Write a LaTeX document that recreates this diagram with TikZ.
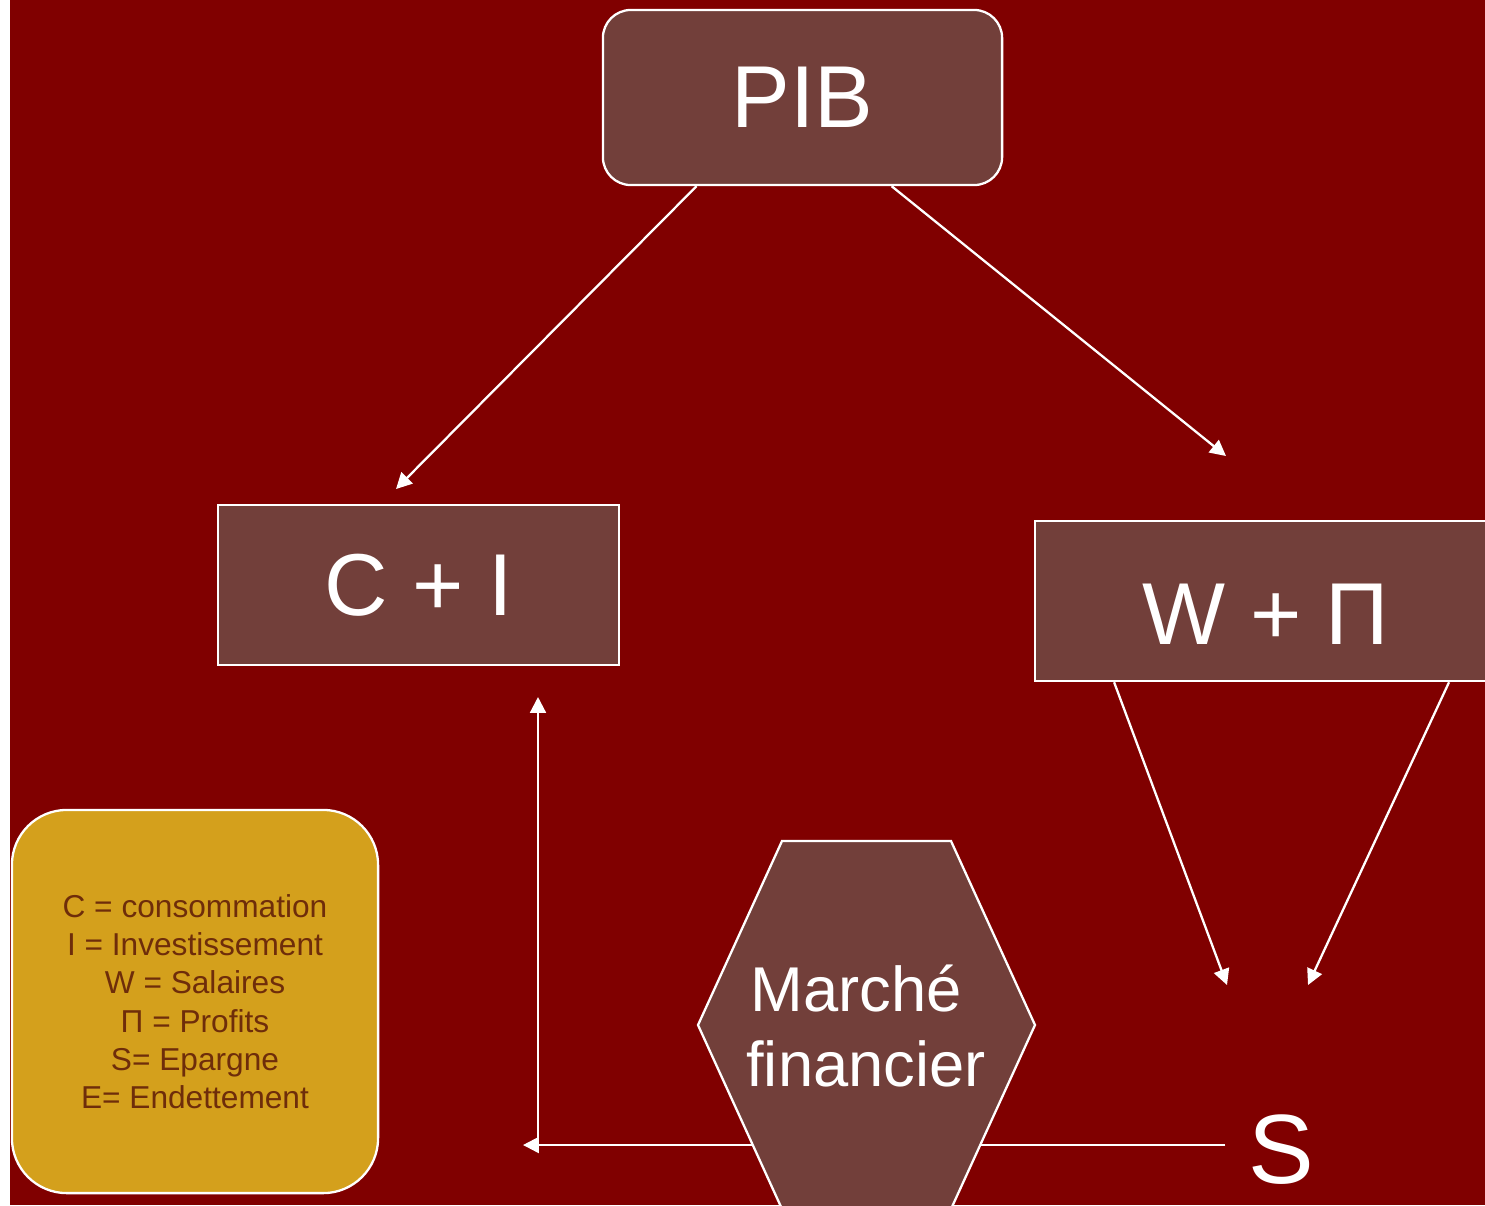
\documentclass[tikz,border=0pt]{standalone}
\usepackage{fontspec}
\setmainfont{Liberation Sans}
\usepackage{tikz}
\usetikzlibrary{positioning}
\usetikzlibrary{arrows.meta,shapes}
\usetikzlibrary{calc}
\definecolor{bordeaux}{RGB}{128,0,0}
\definecolor{brownbox}{RGB}{114,63,58}
\definecolor{goldbox}{RGB}{212,160,28}
\definecolor{legendtext}{RGB}{110,45,10}
\tikzstyle{mainbox}=[rectangle,draw=white,fill=brownbox,line width=0.65pt,text=white,font=\fontsize{25}{30}\selectfont,inner sep=0pt]
\tikzstyle{roundbox}=[mainbox,rounded corners=0.28cm]
\tikzstyle{whitetext}=[text=white,inner sep=0pt]
\tikzstyle{legendbox}=[rectangle,rounded corners=0.55cm,draw=white,fill=goldbox,line width=0.65pt,text=legendtext,align=center,inner sep=0pt,font=\fontsize{9}{10.9}\selectfont]
\tikzstyle{link} = [draw,white,line width=0.65pt,-{Triangle[length=4.5pt,width=4.5pt]}]
\tikzstyle{plainlink} = [draw,white,line width=0.65pt]

\begin{document}
\begin{tikzpicture}[x=0.01cm,y=-0.01cm]
    % page with its white left margin
    \useasboundingbox (0,0) rectangle (1485,1205);
    \fill[bordeaux] (10,0) rectangle (1485,1205);

    % First we draw the boxes
    \node[roundbox,minimum width=3.99cm,minimum height=1.75cm] (pib) at (802.5,97.5) {PIB};
    \node[mainbox,minimum width=4.01cm,minimum height=1.6cm] (ci) at (418.5,585) {C + I};
    \node[mainbox,minimum width=4.62cm,minimum height=1.6cm] (wpi) at (1266,601) {};
    \node[whitetext,font=\fontsize{25}{30}\selectfont] (wpilabel) at (1266,614) {W + Π};
    \node[whitetext,font=\fontsize{28}{34}\selectfont] (s) at (1281,1150) {S};
    \node[legendbox,minimum width=3.66cm,minimum height=3.83cm] (legend) at (195,1001.5)
        {C = consommation\\ I = Investissement\\ W = Salaires\\ Π = Profits\\ S= Epargne\\ E= Endettement};

    % free ends of the arrows
    \foreach \x/\y/\name in {396/489/citip, 1226/456/wpitip, 1227/985/sleft,
                             1308/985/sright, 538/1145/corner, 523/1145/leftend, 538/697/uptip}
        \coordinate (\name) at (\x,\y);

    % Connect the boxes with arrows
    \draw[link] ($(pib.south west)!0.236!(pib.south east)$) -- (citip);
    \draw[link] ($(pib.south west)!0.722!(pib.south east)$) -- (wpitip);
    \draw[link] ($(wpi.south west)!0.173!(wpi.south east)$) -- (sleft);
    \draw[link] ($(wpi.south west)!0.894!(wpi.south east)$) -- (sright);
    \draw[link,shorten <=0.22cm] (s.west |- leftend) -- (leftend);
    \draw[link] (corner) -- (uptip);

    % the hexagon sits on top of the line
    \filldraw[draw=white,fill=brownbox,line width=0.65pt] (782,841) -- (951,841) -- (1035,1025)
        -- (951,1209) -- (782,1209) -- (698,1025) -- cycle;
    \node[whitetext,align=left,font=\fontsize{18}{21.3}\selectfont] (market) at (866,1026) {\hspace{1.2pt}Marché\\financier};
\end{tikzpicture}
\end{document}
